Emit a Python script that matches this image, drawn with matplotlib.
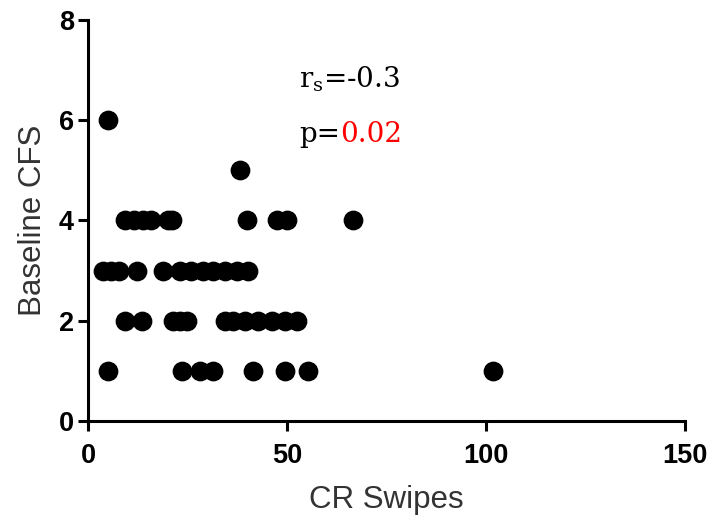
import matplotlib
matplotlib.use("Agg")
import matplotlib.pyplot as plt

# Data
cr_swipes = [
    5,                                                     # CFS 6
    38.2,                                                  # CFS 5
    9.3, 11.5, 13.8, 15.8, 20, 21, 40, 47.5, 50, 66.6,      # CFS 4
    3.8, 5.8, 7.8, 12.3, 18.8, 23, 26, 29, 31.5, 34.5, 37.5, 40.2,  # CFS 3
    9.3, 13.5, 21.4, 23.2, 25, 34.4, 36.5, 39.4, 42.7, 46.2, 49.5, 52.5,  # CFS 2
    5, 23.6, 28.1, 31.4, 41.5, 49.5, 55.3, 101.8,          # CFS 1
]
baseline_cfs = (
    [6] + [5] + [4] * 10 + [3] * 12 + [2] * 12 + [1] * 8
)
x_ticks = [0, 50, 100, 150]
y_ticks = [0, 2, 4, 6, 8]
rs_text = "-0.3"
p_text = "0.02"

fig = plt.figure(figsize=(7.17, 5.27), dpi=100)
ax = fig.add_axes([0.1227, 0.2011, 0.8326, 0.761])

ax.scatter(cr_swipes, baseline_cfs, s=175, color="black", zorder=3, clip_on=False)

ax.set_xlim(0, 150)
ax.set_ylim(0, 8)
ax.set_xticks(x_ticks)
ax.set_yticks(y_ticks)

for side in ["top", "right"]:
    ax.spines[side].set_visible(False)
for side in ["left", "bottom"]:
    ax.spines[side].set_linewidth(2.2)
    ax.spines[side].set_color("black")

ax.tick_params(axis="both", direction="out", length=7, width=2.2, colors="black",
               labelsize=19.5)
ax.tick_params(axis="x", pad=9)
ax.tick_params(axis="y", pad=3)
for lab in ax.get_xticklabels() + ax.get_yticklabels():
    lab.set_fontweight("bold")
    lab.set_fontfamily("Liberation Sans")

ax.set_xlabel("CR Swipes", fontsize=22.5, fontfamily="Liberation Sans", color="#333333", labelpad=11)
ax.set_ylabel("Baseline CFS", fontsize=22.5, fontfamily="Liberation Sans", color="#333333", labelpad=8)

ax.text(53.0, 6.82, r"$\mathregular{r_s}$=" + rs_text, fontsize=20,
        fontfamily="DejaVu Serif", color="black", va="center", ha="left")
t = ax.text(53.0, 5.72, "p=", fontsize=20, fontfamily="DejaVu Serif",
            color="black", va="center", ha="left")
fig.canvas.draw()
bb = t.get_window_extent()
x_end = ax.transData.inverted().transform((bb.x1, bb.y0))[0]
ax.text(x_end, 5.72, p_text, fontsize=20, fontfamily="DejaVu Serif",
        color="red", va="center", ha="left")

fig.savefig("out.png", dpi=100)
